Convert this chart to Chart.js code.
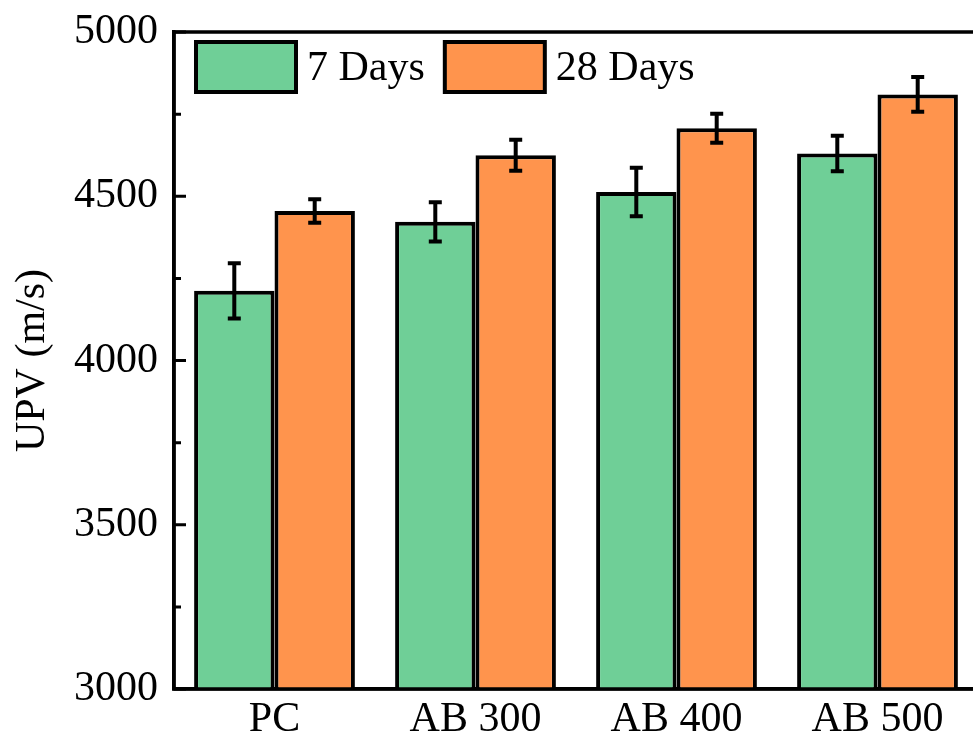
<!DOCTYPE html>
<html><head><meta charset="utf-8">
<script src="https://cdn.jsdelivr.net/npm/chart.js@4/dist/chart.umd.min.js"></script>
<style>
html,body{margin:0;padding:0;background:#fff;overflow:hidden;width:973px;height:742px;}
#wrap{position:relative;width:986px;height:742px;}
</style></head><body>
<div id="wrap"><canvas id="c"></canvas></div>
<script>
const categories = ['PC', 'AB 300', 'AB 400', 'AB 500'];
const seriesLabels = ['7 Days', '28 Days'];
const days7 = [4212, 4422, 4513, 4630];
const days7Err = [84, 60, 74, 54];
const days28 = [4455, 4625, 4707, 4810];
const days28Err = [36, 47, 44, 53];
const yTickValues = [3000, 3500, 4000, 4500, 5000];

const FONT = 'Liberation Serif';
const GREEN = '#6FCF97';
const ORANGE = '#FF944D';

const errorPlugin = {
  id: 'errbars',
  afterDatasetsDraw(chart) {
    const ctx = chart.ctx, y = chart.scales.y;
    chart.data.datasets.forEach((ds, di) => {
      const meta = chart.getDatasetMeta(di);
      meta.data.forEach((bar, i) => {
        const v = ds.data[i], e = ds.errors[i];
        const yt = y.getPixelForValue(v + e), yb = y.getPixelForValue(v - e), x = bar.x;
        ctx.save();
        ctx.strokeStyle = '#000'; ctx.lineWidth = 4; ctx.lineCap = 'butt';
        ctx.beginPath();
        ctx.moveTo(x, yt - 2); ctx.lineTo(x, yb + 2);
        ctx.moveTo(x - 6.5, yt); ctx.lineTo(x + 6.5, yt);
        ctx.moveTo(x - 6.5, yb); ctx.lineTo(x + 6.5, yb);
        ctx.stroke();
        ctx.restore();
      });
    });
  }
};

const framePlugin = {
  id: 'frame',
  afterDraw(chart) {
    const ctx = chart.ctx, a = chart.chartArea, y = chart.scales.y;
    ctx.save();
    ctx.strokeStyle = '#000'; ctx.lineWidth = 3.5;
    ctx.strokeRect(a.left, a.top, a.right - a.left, a.bottom - a.top);
    ctx.lineWidth = 3;
    ctx.beginPath();
    for (let i = 0; i < yTickValues.length; i++) {
      const p = y.getPixelForValue(yTickValues[i]);
      ctx.moveTo(a.left, p); ctx.lineTo(a.left + 12, p);
      if (i < yTickValues.length - 1) {
        const m = y.getPixelForValue((yTickValues[i] + yTickValues[i + 1]) / 2);
        ctx.moveTo(a.left, m); ctx.lineTo(a.left + 7, m);
      }
    }
    ctx.stroke();
    ctx.font = '42px "' + FONT + '"';
    ctx.textBaseline = 'middle';
    let x = a.left + 22;
    const top = a.top + 10;
    chart.data.datasets.forEach((ds) => {
      ctx.fillStyle = ds.backgroundColor;
      ctx.fillRect(x, top, 100, 50);
      ctx.strokeStyle = '#000'; ctx.lineWidth = 4;
      ctx.strokeRect(x, top, 100, 50);
      ctx.fillStyle = '#000';
      ctx.fillText(ds.label, x + 111, top + 27);
      x += 111 + ctx.measureText(ds.label).width + 20;
    });
    ctx.restore();
  }
};

new Chart(document.getElementById('c'), {
  type: 'bar',
  data: {
    labels: categories,
    datasets: [
      { label: seriesLabels[0], data: days7, errors: days7Err, backgroundColor: GREEN, borderColor: '#000', borderWidth: 4, borderSkipped: false },
      { label: seriesLabels[1], data: days28, errors: days28Err, backgroundColor: ORANGE, borderColor: '#000', borderWidth: 4, borderSkipped: false }
    ]
  },
  options: {
    responsive: true,
    maintainAspectRatio: false,
    devicePixelRatio: 1,
    animation: false,
    layout: { padding: { top: 32, right: 8, left: 0, bottom: 0 } },
    datasets: { bar: { categoryPercentage: 0.8, barPercentage: 1.0 } },
    plugins: { legend: { display: false }, tooltip: { enabled: false } },
    scales: {
      x: {
        grid: { display: true, drawOnChartArea: false, drawTicks: false },
        border: { display: true, color: '#000', width: 3.5 },
        ticks: { color: '#000', font: { family: FONT, size: 42, lineHeight: 1 }, padding: 10 },
        afterFit(s) { s.height = 53; s.paddingLeft = 0; s.paddingRight = 0; }
      },
      y: {
        min: 3000, max: 5000,
        afterBuildTicks(s) { s.ticks = yTickValues.map(v => ({ value: v })); },
        grid: { display: true, drawOnChartArea: false, drawTicks: false },
        border: { display: true, color: '#000', width: 3.5 },
        ticks: { color: '#000', font: { family: FONT, size: 42 }, padding: 16, callback: (v) => String(v) },
        title: { display: true, text: 'UPV (m/s)', color: '#000', font: { family: FONT, size: 42 }, padding: { top: 8, bottom: 0 } },
        afterFit(s) { s.width = 174; s.paddingTop = 0; s.paddingBottom = 0; }
      }
    }
  },
  plugins: [errorPlugin, framePlugin]
});
</script>
</body></html>
